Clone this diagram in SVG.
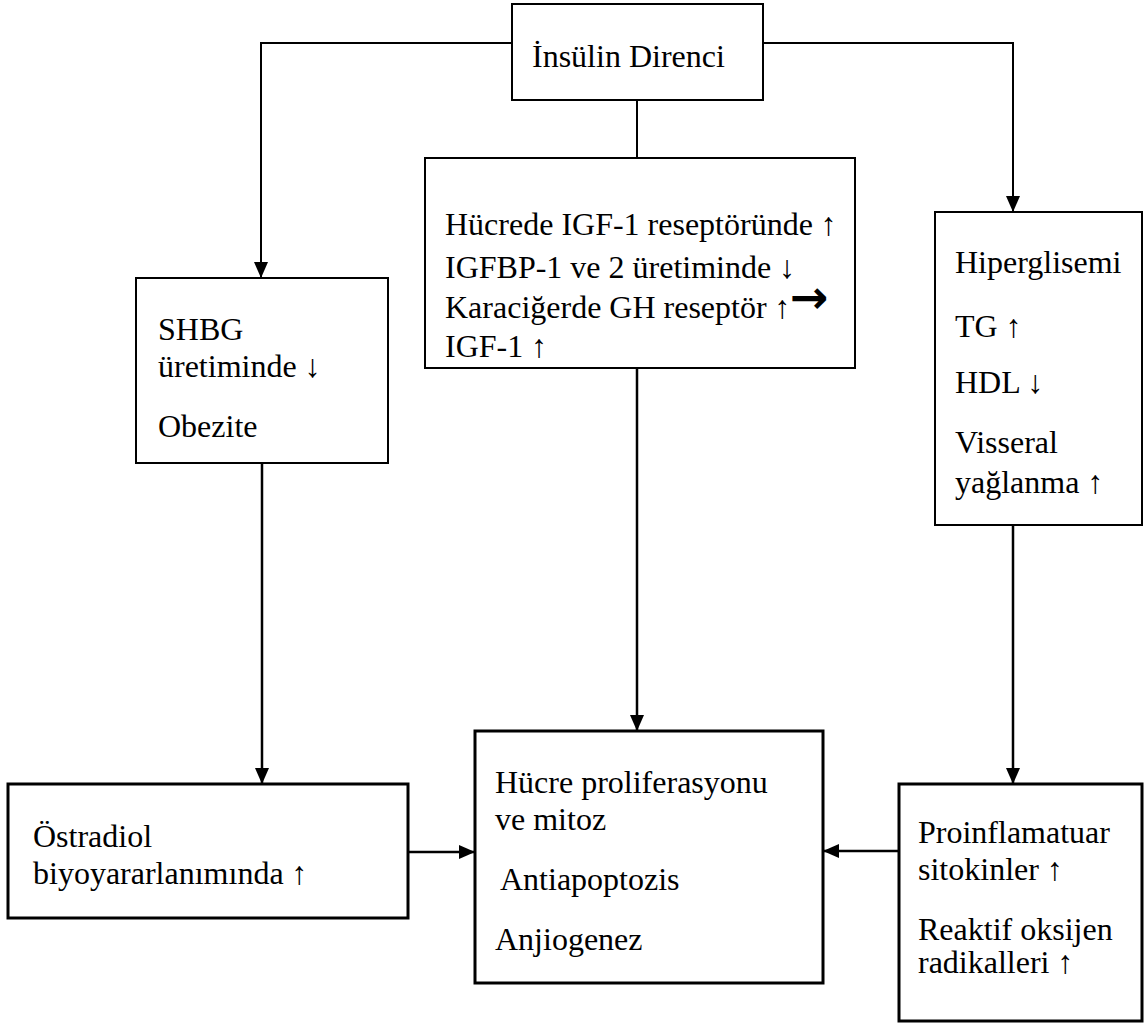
<svg xmlns="http://www.w3.org/2000/svg" width="1144" height="1025" viewBox="0 0 1144 1025">
<style>
text{font-family:"Liberation Serif","Times New Roman",serif;font-size:32px;fill:#000}
.box{fill:#fff;stroke:#000;stroke-width:2}
.boxb{fill:#fff;stroke:#000;stroke-width:3}
.ln{fill:none;stroke:#000;stroke-width:2}
.lnb{fill:none;stroke:#000;stroke-width:2.5}
text.arr{font-family:"DejaVu Sans",sans-serif;font-weight:bold;font-size:46px}
</style>
<defs>
<marker id="ahv" viewBox="0 0 16 14" refX="16" refY="7" markerWidth="16" markerHeight="14" markerUnits="userSpaceOnUse" orient="auto">
<path d="M0,0 L16,7 L0,14 Z" fill="#000"/>
</marker>
</defs>
<g id="connectors">
<path class="ln" d="M512,43 H261 V278" marker-end="url(#ahv)"/>
<path class="ln" d="M763,43 H1013 V212" marker-end="url(#ahv)"/>
<path class="ln" d="M637,100 V158"/>
<path class="lnb" d="M262,463 V784" marker-end="url(#ahv)"/>
<path class="lnb" d="M637,368 V731" marker-end="url(#ahv)"/>
<path class="lnb" d="M1013,525 V784" marker-end="url(#ahv)"/>
<path class="lnb" d="M408,852 H475" marker-end="url(#ahv)"/>
<path class="lnb" d="M899,851 H823" marker-end="url(#ahv)"/>
</g>
<g id="insulin">
<rect class="box" x="512" y="4" width="251" height="96"/>
<text x="532" y="67">İnsülin Direnci</text>
</g>
<g id="igf">
<rect class="box" x="425" y="158" width="430" height="210"/>
<text x="445" y="235">Hücrede IGF-1 reseptöründe ↑</text>
<text x="445" y="278">IGFBP-1 ve 2 üretiminde ↓</text>
<text class="arr" x="790" y="313">→</text>
<text x="445" y="318">Karaciğerde GH reseptör ↑</text>
<text x="445" y="357">IGF-1 ↑</text>
</g>
<g id="shbg">
<rect class="box" x="136" y="278" width="252" height="185"/>
<text x="158" y="340">SHBG</text>
<text x="158" y="377">üretiminde ↓</text>
<text x="158" y="437">Obezite</text>
</g>
<g id="hiper">
<rect class="box" x="935" y="212" width="207" height="313"/>
<text x="955" y="273">Hiperglisemi</text>
<text x="955" y="337">TG ↑</text>
<text x="955" y="393">HDL ↓</text>
<text x="955" y="453">Visseral</text>
<text x="955" y="493">yağlanma ↑</text>
</g>
<g id="ostradiol">
<rect class="boxb" x="8" y="784" width="400" height="134"/>
<text x="33" y="847">Östradiol</text>
<text x="33" y="884">biyoyararlanımında ↑</text>
</g>
<g id="hucre">
<rect class="boxb" x="475" y="731" width="348" height="252"/>
<text x="495" y="793">Hücre proliferasyonu</text>
<text x="495" y="830">ve mitoz</text>
<text x="500" y="890">Antiapoptozis</text>
<text x="495" y="950">Anjiogenez</text>
</g>
<g id="proinf">
<rect class="boxb" x="899" y="784" width="243" height="237"/>
<text x="918" y="843">Proinflamatuar</text>
<text x="918" y="880">sitokinler ↑</text>
<text x="918" y="940">Reaktif oksijen</text>
<text x="918" y="973">radikalleri ↑</text>
</g>
</svg>
